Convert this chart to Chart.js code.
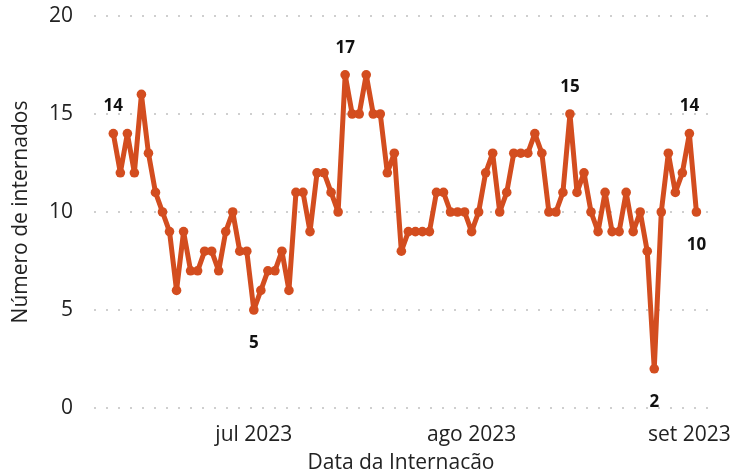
<!DOCTYPE html>
<html>
<head>
<meta charset="utf-8">
<script src="https://cdn.jsdelivr.net/npm/chart.js@4/dist/chart.umd.min.js"></script>
<style>
  html, body { margin: 0; padding: 0; background: #fff; overflow: hidden; }
  #wrap { width: 732px; height: 469px; position: relative; }
</style>
</head>
<body>
<div id="wrap"><canvas id="chart"></canvas></div>
<script>
// dias de 11/06/2023 a 02/09/2023 (índice 0 = 11 jun)
const dayIndex = Array.from({ length: 84 }, (_, i) => i);
const internados = [
  14, 12, 14, 12, 16, 13, 11, 10, 9, 6,
  9, 7, 7, 8, 8, 7, 9, 10, 8, 8,
  5, 6, 7, 7, 8, 6, 11, 11, 9, 12,
  12, 11, 10, 17, 15, 15, 17, 15, 15, 12,
  13, 8, 9, 9, 9, 9, 11, 11, 10, 10,
  10, 9, 10, 12, 13, 10, 11, 13, 13, 13,
  14, 13, 10, 10, 11, 15, 11, 12, 10, 9,
  11, 9, 9, 11, 9, 10, 8, 2, 10, 13,
  11, 12, 14, 10
];
const tickPositions = [20, 51, 82];
const tickLabels = ['jul 2023', 'ago 2023', 'set 2023'];
const yTicks = [0, 5, 10, 15, 20];
// pontos com rótulo: índice e lado (acima / abaixo)
const labelIdx = [0, 20, 33, 65, 77, 82, 83];
const labelSide = ['up', 'down', 'up', 'up', 'down', 'up', 'down'];

const lineColor = '#D34D1F';
const FONT = 'Open Sans';

const pointLabels = {
  id: 'pointLabels',
  afterDatasetsDraw(chart) {
    const { ctx, scales: { x, y } } = chart;
    ctx.save();
    ctx.font = 'bold 17px "' + FONT + '"';
    ctx.fillStyle = '#111';
    ctx.textAlign = 'center';
    ctx.textBaseline = 'middle';
    labelIdx.forEach((idx, k) => {
      const px = x.getPixelForValue(dayIndex[idx]);
      const py = y.getPixelForValue(internados[idx]);
      const dy = labelSide[k] === 'up' ? -27 : 33;
      ctx.fillText(String(internados[idx]), px, py + dy);
    });
    ctx.restore();
  }
};

new Chart(document.getElementById('chart'), {
  type: 'line',
  data: {
    datasets: [{
      data: dayIndex.map((d, i) => ({ x: d, y: internados[i] })),
      borderColor: lineColor,
      backgroundColor: lineColor,
      borderWidth: 5,
      borderJoinStyle: 'round',
      pointRadius: 4.8,
      pointBackgroundColor: lineColor,
      pointBorderWidth: 0,
      tension: 0
    }]
  },
  options: {
    responsive: true,
    maintainAspectRatio: false,
    animation: false,
    layout: { padding: { top: 16, right: 24, left: 0, bottom: 0 } },
    plugins: { legend: { display: false }, tooltip: { enabled: false } },
    scales: {
      x: {
        type: 'linear',
        min: -2.75,
        max: 84.65,
        grid: { display: false },
        border: { display: false },
        afterBuildTicks: (scale) => {
          scale.ticks = tickPositions.map(v => ({ value: v }));
        },
        afterFit: (scale) => {
          scale.height = 61;
          scale.paddingLeft = 0;
          scale.paddingRight = 0;
        },
        ticks: {
          autoSkip: false,
          maxRotation: 0,
          padding: 6,
          color: '#222',
          font: { family: FONT, size: 21 },
          callback: (value) => tickLabels[tickPositions.indexOf(value)]
        },
        title: {
          display: true,
          text: 'Data da Internação',
          color: '#222',
          font: { family: FONT, size: 21, lineHeight: 1 },
          padding: { top: 0, bottom: -5 }
        }
      },
      y: {
        min: 0,
        max: 20,
        afterBuildTicks: (scale) => {
          scale.ticks = yTicks.map(v => ({ value: v }));
        },
        afterFit: (scale) => {
          scale.width = 94;
          scale.paddingTop = 0;
          scale.paddingBottom = 0;
        },
        grid: { color: '#cfcfcf', lineWidth: 2, drawTicks: false },
        border: { display: false, dash: [2, 10] },
        ticks: {
          padding: 21,
          color: '#222',
          font: { family: FONT, size: 21 }
        },
        title: {
          display: true,
          text: 'Número de internados',
          color: '#222',
          font: { family: FONT, size: 21 },
          padding: { top: 8, bottom: 0 }
        }
      }
    }
  },
  plugins: [pointLabels]
});
</script>
</body>
</html>
